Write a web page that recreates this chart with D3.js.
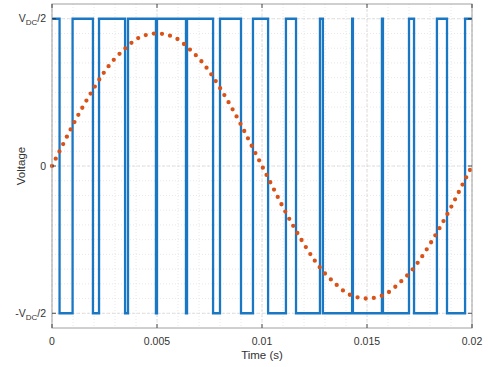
<!DOCTYPE html>
<html><head><meta charset="utf-8">
<script src="https://cdn.jsdelivr.net/npm/d3@7"></script>
<style>
html,body{margin:0;padding:0;background:#fff;}
svg{display:block;font-family:"Liberation Sans",Arial,sans-serif;}
</style></head>
<body><svg id="c" width="488" height="367"></svg>
<script>
// PWM switching instants (s); the level starts high
const pwmEdges = [0.00036,0.00098,0.00195,0.00224,0.00348,0.00362,0.00495,0.00500,
  0.00638,0.00643,0.00767,0.00800,0.00900,0.00957,0.01029,0.01114,0.01162,0.01276,
  0.01290,0.01429,0.01433,0.01571,0.01576,0.01700,0.01724,0.01833,0.01881,0.01967];
const pwmStart = 1, tEnd = 0.02;
// Reference sinusoid samples every 0.5 ms
const sineT = d3.range(0, 41).map(i => i * 0.0005);
const sineV = [0,0.14,0.28,0.41,0.53,0.64,0.73,0.80,0.86,0.89,0.90,0.89,0.86,0.80,0.73,0.64,0.53,0.41,0.28,0.14,0,
  -0.14,-0.28,-0.41,-0.53,-0.64,-0.73,-0.80,-0.86,-0.89,-0.90,-0.89,-0.86,-0.80,-0.73,-0.64,-0.53,-0.41,-0.28,-0.14,0];
const xTicks = [0,0.005,0.01,0.015,0.02];
const xTickLabels = ["0","0.005","0.01","0.015","0.02"];
const yTicks = [-1,0,1];

const svg = d3.select("#c");
const L=52,R=472,T=4,B=328;
const x = d3.scaleLinear().domain([0,0.02]).range([L,R]);
const y = d3.scaleLinear().domain([-1.1,1.1]).range([B,T]);

// grid
const g = svg.append("g");
const minorX = d3.range(1,20).map(i=>i*0.001);
const minorY = d3.range(-10,11).map(i=>i*0.1);
g.selectAll(".mx").data(minorX).enter().append("line")
 .attr("x1",d=>x(d)).attr("x2",d=>x(d)).attr("y1",T).attr("y2",B)
 .attr("stroke","#e2e2e2").attr("stroke-width",0.8).attr("stroke-dasharray","1 2");
g.selectAll(".my").data(minorY).enter().append("line")
 .attr("y1",d=>y(d)).attr("y2",d=>y(d)).attr("x1",L).attr("x2",R)
 .attr("stroke","#e2e2e2").attr("stroke-width",0.8).attr("stroke-dasharray","1 2");
g.selectAll(".Mx").data(xTicks).enter().append("line")
 .attr("x1",d=>x(d)).attr("x2",d=>x(d)).attr("y1",T).attr("y2",B)
 .attr("stroke","#d8d8d8").attr("stroke-width",0.8).attr("stroke-dasharray","3 2");
g.selectAll(".My").data(yTicks).enter().append("line")
 .attr("y1",d=>y(d)).attr("y2",d=>y(d)).attr("x1",L).attr("x2",R)
 .attr("stroke","#d8d8d8").attr("stroke-width",0.8).attr("stroke-dasharray","3 2");

// PWM path
const pts = [];
let lvl = pwmStart;
pts.push([0,lvl]);
pwmEdges.forEach(t=>{ pts.push([t,lvl]); lvl=-lvl; pts.push([t,lvl]); });
pts.push([tEnd,lvl]);
svg.append("path").attr("d", d3.line().x(d=>x(d[0])).y(d=>y(d[1]))(pts))
 .attr("fill","none").attr("stroke","#1a77c4").attr("stroke-width",2.3);

// sine dotted
svg.append("path").attr("d", d3.line().curve(d3.curveNatural).x((d,i)=>x(sineT[i])).y(d=>y(d))(sineV))
 .attr("fill","none").attr("stroke","#D95319").attr("stroke-width",4.3)
 .attr("stroke-linecap","round").attr("stroke-dasharray","0 8.2");

// axes box
svg.append("rect").attr("x",L).attr("y",T).attr("width",R-L).attr("height",B-T)
 .attr("fill","none").attr("stroke","#a0a0a0").attr("stroke-width",1);
// ticks
const tk = svg.append("g").attr("stroke","#262626").attr("stroke-width",0.8);
xTicks.forEach(d=>{
  tk.append("line").attr("x1",x(d)).attr("x2",x(d)).attr("y1",B).attr("y2",B-4);
  tk.append("line").attr("x1",x(d)).attr("x2",x(d)).attr("y1",T).attr("y2",T+4);
});
yTicks.forEach(d=>{
  tk.append("line").attr("y1",y(d)).attr("y2",y(d)).attr("x1",L).attr("x2",L+4);
  tk.append("line").attr("y1",y(d)).attr("y2",y(d)).attr("x1",R).attr("x2",R-4);
});

// x tick labels
svg.selectAll(".xl").data(xTicks).enter().append("text")
 .attr("x",d=>x(d)).attr("y",B+17).attr("text-anchor","middle")
 .attr("font-size",10.5).attr("fill","#333").text((d,i)=>xTickLabels[i]);

// y tick labels
function vdc(sel, prefix){
  sel.append("tspan").text(prefix+"V");
  sel.append("tspan").attr("font-size",8).attr("dy",3).text("DC");
  sel.append("tspan").attr("dy",-3).text("/2");
}
const t1 = svg.append("text").attr("x",L-6).attr("y",y(1)+3.5).attr("text-anchor","end")
 .attr("font-size",10.5).attr("fill","#333"); vdc(t1,"");
const t0 = svg.append("text").attr("x",L-6).attr("y",y(0)+3.5).attr("text-anchor","end")
 .attr("font-size",10.5).attr("fill","#333").text("0");
const t2 = svg.append("text").attr("x",L-6).attr("y",y(-1)+3.5).attr("text-anchor","end")
 .attr("font-size",10.5).attr("fill","#333"); vdc(t2,"-");

// axis titles
svg.append("text").attr("x",(L+R)/2).attr("y",359).attr("text-anchor","middle")
 .attr("font-size",11.5).attr("fill","#333").text("Time (s)");
svg.append("text").attr("transform",`translate(25,${y(0)}) rotate(-90)`).attr("text-anchor","middle")
 .attr("font-size",11.5).attr("fill","#333").text("Voltage");
</script></body></html>
